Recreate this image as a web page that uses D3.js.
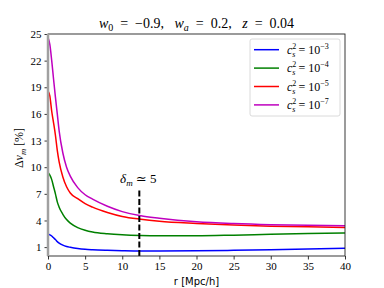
<!DOCTYPE html>
<html>
<head>
<meta charset="utf-8">
<script src="https://cdn.jsdelivr.net/npm/d3@7"></script>
<style>
  body { margin: 0; background: #fff; }
  svg text { white-space: pre; }
</style>
</head>
<body>
<svg id="chart" width="384" height="288"></svg>
<script>
// radius in Mpc/h
var rVals = [0, 0.25, 0.5, 0.75, 1, 1.25, 1.5, 2, 2.5, 3, 4, 5, 6, 8, 10, 12.5, 15, 20, 25, 30, 35, 40];

// Delta v_m [%] for each sound speed
var dv_cs3 = [2.45, 2.38, 2.25, 2.05, 1.85, 1.62, 1.45, 1.22, 1.07, 0.98, 0.84, 0.75, 0.70, 0.64, 0.60, 0.57, 0.57, 0.59, 0.64, 0.70, 0.78, 0.86];
var dv_cs4 = [9.4, 9.1, 8.6, 7.8, 7.0, 6.1, 5.5, 4.7, 4.1, 3.7, 3.2, 2.9, 2.7, 2.5, 2.38, 2.3, 2.27, 2.28, 2.35, 2.44, 2.52, 2.59];
var dv_cs5 = [18.6, 18.0, 16.3, 15.0, 13.6, 11.9, 10.6, 8.9, 7.8, 7.1, 6.45, 5.9, 5.5, 4.9, 4.45, 4.14, 3.92, 3.67, 3.48, 3.36, 3.28, 3.22];
var dv_cs7 = [24.6, 23.8, 22.0, 19.9, 17.9, 16.0, 14.1, 11.6, 10.0, 9.0, 7.7, 6.9, 6.4, 5.6, 5.0, 4.52, 4.25, 3.86, 3.65, 3.52, 3.45, 3.41];

var seriesExp = ["-3", "-4", "-5", "-7"];
var seriesColors = ["#0000ff", "#008000", "#ff0000", "#bf00bf"];

var xTicks = [0, 5, 10, 15, 20, 25, 30, 35, 40];
var yTicks = [1, 4, 7, 10, 13, 16, 19, 22, 25];

var deltaR = 12.3;      // position of the delta_m ~ 5 marker
var deltaTop = 7.5;

var svg = d3.select("#chart"),
    margin = {top: 34, right: 39, bottom: 32, left: 48},
    width = +svg.attr("width") - margin.left - margin.right,
    height = +svg.attr("height") - margin.top - margin.bottom;

var serif = "'Liberation Serif', 'DejaVu Serif', serif";
var eq = "\u2002=\u2002", gap = ",\u2002 ";

var x = d3.scaleLinear().domain([0, 40]).range([0, width]);
var y = d3.scaleLinear().domain([0, 25]).range([height, 0]);

var g = svg.append("g").attr("transform", "translate(" + margin.left + "," + margin.top + ")");

var series = [dv_cs3, dv_cs4, dv_cs5, dv_cs7];

var line = d3.line()
    .x(function(d, i) { return x(rVals[i]); })
    .y(function(d) { return y(d); })
    .curve(d3.curveMonotoneX);

series.forEach(function(s, k) {
  g.append("path")
    .datum(s)
    .attr("fill", "none")
    .attr("stroke", seriesColors[k])
    .attr("stroke-width", 1.5)
    .attr("d", line);
});

// dashed marker
g.append("line")
  .attr("x1", x(deltaR)).attr("x2", x(deltaR))
  .attr("y1", y(0)).attr("y2", y(deltaTop))
  .attr("stroke", "#000")
  .attr("stroke-width", 2)
  .attr("stroke-dasharray", "6,2.5");

var ann = g.append("text")
  .attr("x", x(deltaR) - 1)
  .attr("y", y(deltaTop) - 6)
  .attr("text-anchor", "middle")
  .style("font-family", serif)
  .style("font-size", "13px");
ann.append("tspan").style("font-style", "italic").text("δ");
ann.append("tspan").style("font-style", "italic").style("font-size", "9px").attr("dy", 3).text("m");
ann.append("tspan").attr("dy", -3).text(" ≃ 5");

// axes
var xAxis = g.append("g")
  .attr("transform", "translate(0," + height + ")")
  .call(d3.axisBottom(x).tickValues(xTicks).tickSize(3.5).tickPadding(3));
var yAxis = g.append("g")
  .call(d3.axisLeft(y).tickValues(yTicks).tickSize(3.5).tickPadding(3));

[xAxis, yAxis].forEach(function(a) {
  a.select(".domain").remove();
  a.selectAll("line").attr("stroke", "#000").attr("stroke-width", 0.8);
  a.selectAll("text")
    .style("font-family", serif)
    .style("font-size", "11px")
    .attr("fill", "#000");
});

// frame
g.append("rect")
  .attr("width", width).attr("height", height)
  .attr("fill", "none")
  .attr("stroke", "#222")
  .attr("stroke-width", 0.9);

// grey line at r = 0
g.append("line")
  .attr("x1", x(0)).attr("x2", x(0))
  .attr("y1", 0).attr("y2", height)
  .attr("stroke", "#a0a0a0")
  .attr("stroke-width", 2.5);

// title
var title = svg.append("text")
  .attr("x", margin.left + width / 2)
  .attr("y", 28)
  .attr("text-anchor", "middle")
  .style("font-family", serif)
  .style("font-size", "14px");
title.append("tspan").style("font-style", "italic").text("w");
title.append("tspan").style("font-size", "10px").attr("dy", 3).text("0");
title.append("tspan").attr("dy", -3).text(eq + "−0.9" + gap);
title.append("tspan").style("font-style", "italic").text("w");
title.append("tspan").style("font-style", "italic").style("font-size", "10px").attr("dy", 3).text("a");
title.append("tspan").attr("dy", -3).text(eq + "0.2" + gap);
title.append("tspan").style("font-style", "italic").text("z");
title.append("tspan").text(eq + "0.04");

// axis labels
svg.append("text")
  .attr("x", margin.left + width / 2)
  .attr("y", 285)
  .attr("text-anchor", "middle")
  .style("font-family", "'DejaVu Sans', sans-serif")
  .style("font-size", "10px")
  .text("r [Mpc/h]");

var yl = svg.append("text")
  .attr("transform", "translate(23," + (margin.top + height / 2 + 3) + ") rotate(-90)")
  .attr("text-anchor", "middle")
  .style("font-family", serif)
  .style("font-size", "12px");
yl.append("tspan").text("Δ");
yl.append("tspan").style("font-style", "italic").text("v");
yl.append("tspan").style("font-style", "italic").style("font-size", "8.5px").attr("dy", 3).text("m");
yl.append("tspan").attr("dy", -3).text(" [%]");

// legend
var leg = svg.append("g").attr("transform", "translate(250,39)");
leg.append("rect")
  .attr("width", 90).attr("height", 77)
  .attr("rx", 2)
  .attr("fill", "#fff")
  .attr("fill-opacity", 0.8)
  .attr("stroke", "#d0d0d0")
  .attr("stroke-width", 0.8);

seriesExp.forEach(function(e, k) {
  var yy = 10.7 + k * 18.4;
  leg.append("line")
    .attr("x1", 4).attr("x2", 29)
    .attr("y1", yy).attr("y2", yy)
    .attr("stroke", seriesColors[k])
    .attr("stroke-width", 1.5);
  var t = leg.append("text")
    .attr("x", 37).attr("y", yy + 4)
    .style("font-family", serif)
    .style("font-size", "12px");
  t.append("tspan").style("font-style", "italic").text("c");
  t.append("tspan").style("font-size", "8px").attr("dy", -5).text("2");
  t.append("tspan").style("font-style", "italic").style("font-size", "8px").attr("dx", -4).attr("dy", 8).text("s");
  t.append("tspan").attr("dy", -3).text(" = 10");
  t.append("tspan").style("font-size", "8px").attr("dy", -5).text(e.replace("-", "−"));
});
</script>
</body>
</html>
